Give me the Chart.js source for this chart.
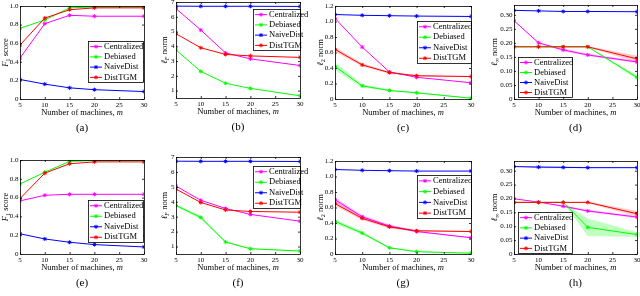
<!DOCTYPE html>
<html>
<head>
<meta charset="utf-8">
<script src="https://cdn.jsdelivr.net/npm/chart.js@4.4.0/dist/chart.umd.min.js"></script>
<style>
  body { margin: 0; background: #fff; width: 640px; height: 296px; overflow: hidden; position: relative; font-family: "Liberation Serif", serif; }
  canvas { position: absolute; }
  .cap { position: absolute; font-size: 11px; transform: translateX(-50%); color: #000; }
</style>
</head>
<body>
<script>
// x values and labels
const machines = [5, 10, 15, 20, 30];
const xTicks = [5, 10, 15, 20, 25, 30];
const methods = ['Centralized', 'Debiased', 'NaiveDist', 'DistTGM'];

// y tick labels
const f1Ticks = [0, 0.2, 0.4, 0.6, 0.8, 1];
const fnormTicks = [1, 2, 3, 4, 5, 6, 7];
const l2Ticks = [0, 0.2, 0.4, 0.6, 0.8, 1, 1.2];
const linfTicks = [0, 0.05, 0.1, 0.15, 0.2, 0.25, 0.3];

// (a) F1 score, top row
const aCentralized = [0.44, 0.81, 0.90, 0.89, 0.89];
const aDebiased = [0.76, 0.85, 0.98, 0.99, 0.99];
const aNaiveDist = [0.21, 0.16, 0.12, 0.10, 0.08];
const aDistTGM = [0.58, 0.87, 0.96, 0.98, 0.98];

// (b) lF norm
const bCentralized = [6.55, 5.1, 3.55, 3.15, 2.7];
const bDebiased = [3.75, 2.3, 1.5, 1.15, 0.65];
const bNaiveDist = [6.72, 6.71, 6.71, 6.71, 6.70];
const bDistTGM = [4.85, 3.9, 3.45, 3.35, 3.25];

// (c) l2 norm
const cCentralized = [1.04, 0.67, 0.35, 0.28, 0.21];
const cDebiased = [0.42, 0.17, 0.11, 0.08, 0.01];
const cNaiveDist = [1.09, 1.08, 1.075, 1.07, 1.065];
const cDistTGM = [0.64, 0.44, 0.34, 0.30, 0.29];
const cDebiasedBand = [0.05, 0.02, 0.01, 0.01, 0.005];
const cDistTGMBand = [0.03, 0.02, 0.015, 0.01, 0.005];

// (d) linf norm
const dCentralized = [0.279, 0.200, 0.175, 0.157, 0.132];
const dDebiased = [0.186, 0.186, 0.186, 0.186, 0.077];
const dNaiveDist = [0.316, 0.314, 0.312, 0.312, 0.311];
const dDistTGM = [0.186, 0.186, 0.186, 0.186, 0.143];
const dCentralizedBand = [0, 0.002, 0.005, 0.004, 0.004];
const dDebiasedBand = [0, 0, 0, 0, 0.008];
const dDistTGMBand = [0, 0, 0, 0.002, 0.012];

// (e) F1 score, bottom row
const eCentralized = [0.565, 0.625, 0.635, 0.635, 0.635];
const eDebiased = [0.745, 0.87, 0.985, 0.995, 0.995];
const eNaiveDist = [0.215, 0.16, 0.125, 0.10, 0.075];
const eDistTGM = [0.59, 0.86, 0.96, 0.98, 0.98];

// (f) lF norm
const fCentralized = [5.05, 4.1, 3.55, 3.15, 2.7];
const fDebiased = [3.75, 2.95, 1.3, 0.85, 0.7];
const fNaiveDist = [6.72, 6.71, 6.71, 6.71, 6.70];
const fDistTGM = [4.85, 3.95, 3.45, 3.35, 3.3];
const fDebiasedBand = [0.08, 0.12, 0.05, 0.03, 0.03];

// (g) l2 norm
const gCentralized = [0.70, 0.48, 0.36, 0.29, 0.21];
const gDebiased = [0.42, 0.27, 0.08, 0.03, 0.01];
const gNaiveDist = [1.09, 1.08, 1.075, 1.07, 1.07];
const gDistTGM = [0.65, 0.46, 0.35, 0.30, 0.29];
const gCentralizedBand = [0.03, 0.02, 0.02, 0.01, 0.005];
const gDebiasedBand = [0.03, 0.02, 0.01, 0.005, 0.005];
const gDistTGMBand = [0.03, 0.02, 0.02, 0.01, 0.005];

// (h) linf norm
const hCentralized = [0.199, 0.187, 0.172, 0.155, 0.133];
const hDebiased = [0.186, 0.186, 0.186, 0.096, 0.07];
const hNaiveDist = [0.315, 0.313, 0.312, 0.311, 0.311];
const hDistTGM = [0.186, 0.186, 0.186, 0.186, 0.145];
const hCentralizedBand = [0, 0, 0.003, 0.004, 0.004];
const hDebiasedBand = [0, 0, 0, 0.032, 0.008];
const hNaiveDistBand = [0, 0.004, 0.003, 0.002, 0.001];
const hDistTGMBand = [0, 0, 0, 0.003, 0.01];

const colors = ['#ff00ff', '#00ff00', '#0000ff', '#ff0000'];
const bandColors = ['rgba(255,0,255,0.25)', 'rgba(0,255,0,0.25)', 'rgba(0,0,255,0.2)', 'rgba(255,0,0,0.2)'];
const FONT = '"Liberation Serif", serif';

// y titles: [text, style] parts; style: n normal, i italic, s subscript, si italic subscript
const titleF1 = [['F', 'i'], ['1', 's'], [' score', 'n']];
const titleLF = [['\u2113', 'i'], ['F', 'si'], [' norm', 'n']];
const titleL2 = [['\u2113', 'i'], ['2', 's'], [' norm', 'n']];
const titleLinf = [['\u2113', 'i'], ['\u221e', 's'], [' norm', 'n']];

const panels = [
  { rect: [20, 6, 144, 99], y: [0, 1], yTicks: f1Ticks, title: titleF1, tOff: 14,
    series: [aCentralized, aDebiased, aNaiveDist, aDistTGM], bands: [], legend: [88, 41, 143, 82], cap: '(a)' },
  { rect: [176, 2, 300, 98], y: [0.5, 7], yTicks: fnormTicks, title: titleLF, tOff: 11,
    series: [bCentralized, bDebiased, bNaiveDist, bDistTGM], bands: [], legend: [253, 9, 300, 50], cap: '(b)' },
  { rect: [335, 6, 471, 99], y: [0, 1.2], yTicks: l2Ticks, title: titleL2, tOff: 14,
    series: [cCentralized, cDebiased, cNaiveDist, cDistTGM], bands: [null, cDebiasedBand, null, cDistTGMBand], legend: [417, 21, 471, 63], cap: '(c)' },
  { rect: [514, 5, 637, 99], y: [0, 0.335], yTicks: linfTicks, title: titleLinf, tOff: 19,
    series: [dCentralized, dDebiased, dNaiveDist, dDistTGM], bands: [dCentralizedBand, dDebiasedBand, null, dDistTGMBand], legend: [518, 57, 572, 97], cap: '(d)' },
  { rect: [20, 160, 144, 254], y: [0, 1], yTicks: f1Ticks, title: titleF1, tOff: 14,
    series: [eCentralized, eDebiased, eNaiveDist, eDistTGM], bands: [], legend: [88, 200, 143, 242], cap: '(e)' },
  { rect: [176, 157, 300, 254], y: [0.5, 7], yTicks: fnormTicks, title: titleLF, tOff: 11,
    series: [fCentralized, fDebiased, fNaiveDist, fDistTGM], bands: [null, fDebiasedBand, null, null], legend: [253, 166, 300, 208], cap: '(f)' },
  { rect: [335, 161, 471, 254], y: [0, 1.2], yTicks: l2Ticks, title: titleL2, tOff: 14,
    series: [gCentralized, gDebiased, gNaiveDist, gDistTGM], bands: [gCentralizedBand, gDebiasedBand, null, gDistTGMBand], legend: [417, 175, 471, 218], cap: '(g)' },
  { rect: [514, 161, 637, 254], y: [0, 0.335], yTicks: linfTicks, title: titleLinf, tOff: 19,
    series: [hCentralized, hDebiased, hNaiveDist, hDistTGM], bands: [hCentralizedBand, hDebiasedBand, hNaiveDistBand, hDistTGMBand], legend: [518, 212, 572, 253], cap: '(h)' }
];

const YW = 40, XH = 24, PT = 6, PR = 8;

function buildDatasets(p) {
  const ds = [];
  p.series.forEach((v, i) => {
    const b = p.bands[i];
    if (!b) return;
    ds.push({ data: machines.map((x, k) => ({ x, y: v[k] - b[k] })), borderColor: 'transparent', borderWidth: 0,
      pointRadius: 0, fill: false, order: 10 });
    ds.push({ data: machines.map((x, k) => ({ x, y: v[k] + b[k] })), borderColor: 'transparent', borderWidth: 0,
      pointRadius: 0, fill: '-1', backgroundColor: bandColors[i], order: 10 });
  });
  p.series.forEach((v, i) => {
    ds.push({ label: methods[i], data: machines.map((x, k) => ({ x, y: v[k] })), borderColor: colors[i],
      backgroundColor: colors[i], borderWidth: 1, pointStyle: 'star', pointRadius: 2, pointBorderWidth: 1,
      fill: false, order: 4 - i });
  });
  return ds;
}

function drawParts(ctx, parts, x, y, size) {
  // measure then draw centred at x
  const fontOf = st => (st.includes('i') ? 'italic ' : '') + (st.includes('s') ? size * 0.72 : size) + 'px ' + FONT;
  let total = 0;
  parts.forEach(([t, st]) => { ctx.font = fontOf(st); total += ctx.measureText(t).width; });
  let cx = x - total / 2;
  parts.forEach(([t, st]) => {
    ctx.font = fontOf(st);
    ctx.fillText(t, cx, y + (st.includes('s') ? size * 0.25 : 0));
    cx += ctx.measureText(t).width;
  });
}

const matlabBox = {
  id: 'matlabBox',
  afterDraw(chart) {
    const p = chart.options.plugins.matlabBox.panel;
    const off = chart.options.plugins.matlabBox.off;
    const { ctx, chartArea: a, scales } = chart;
    ctx.save();
    ctx.strokeStyle = '#000';
    ctx.lineWidth = 0.8;
    ctx.strokeRect(a.left + 0.5, a.top + 0.5, a.right - a.left, a.bottom - a.top);
    ctx.beginPath();
    scales.x.ticks.forEach(t => {
      const px = scales.x.getPixelForValue(t.value) + 0.5;
      ctx.moveTo(px, a.bottom); ctx.lineTo(px, a.bottom - 2);
      ctx.moveTo(px, a.top); ctx.lineTo(px, a.top + 2);
    });
    scales.y.ticks.forEach(t => {
      const py = scales.y.getPixelForValue(t.value) + 0.5;
      ctx.moveTo(a.left, py); ctx.lineTo(a.left + 2, py);
      ctx.moveTo(a.right, py); ctx.lineTo(a.right - 2, py);
    });
    ctx.stroke();

    // axis titles
    ctx.fillStyle = '#000';
    ctx.textBaseline = 'middle';
    ctx.textAlign = 'left';
    drawParts(ctx, [['Number of machines, ', 'n'], ['m', 'i']], (a.left + a.right) / 2, a.bottom + 14, 8.5);
    ctx.save();
    ctx.translate(a.left - p.tOff, (a.top + a.bottom) / 2);
    ctx.rotate(-Math.PI / 2);
    drawParts(ctx, p.title, 0, 0, 8.5);
    ctx.restore();

    // legend box
    const [l, t, r, b] = p.legend;
    const lx = l - off[0], ly = t - off[1], lw = r - l, lh = b - t;
    ctx.fillStyle = '#fff';
    ctx.fillRect(lx, ly, lw, lh);
    ctx.strokeRect(lx + 0.5, ly + 0.5, lw, lh);
    const rowH = lh / 4;
    methods.forEach((m, i) => {
      const cy = ly + rowH * (i + 0.5) + 0.5;
      ctx.strokeStyle = colors[i];
      ctx.lineWidth = 1;
      ctx.beginPath(); ctx.moveTo(lx + 2, cy); ctx.lineTo(lx + 14, cy); ctx.stroke();
      Chart.helpers.drawPoint(ctx, { pointStyle: 'star', radius: 2, rotation: 0, borderWidth: 1 }, lx + 8, cy);
      ctx.fillStyle = '#000';
      ctx.font = '8.5px ' + FONT;
      ctx.fillText(m, lx + 16, cy);
    });
    ctx.restore();
  }
};

panels.forEach(p => {
  const [l, t, r, b] = p.rect;
  const cv = document.createElement('canvas');
  const left = l - YW, top = t - PT;
  cv.width = r - l + YW + PR;
  cv.height = b - t + PT + XH;
  cv.style.left = left + 'px';
  cv.style.top = top + 'px';
  document.body.appendChild(cv);

  new Chart(cv, {
    type: 'line',
    data: { datasets: buildDatasets(p) },
    options: {
      responsive: false,
      animation: false,
      layout: { padding: { top: PT, right: PR, left: 0, bottom: 0 } },
      plugins: { legend: { display: false }, tooltip: { enabled: false }, matlabBox: { panel: p, off: [left, top] } },
      scales: {
        x: {
          type: 'linear', min: 5, max: 30,
          grid: { display: false, drawTicks: false }, border: { display: false },
          afterBuildTicks: s => { s.ticks = xTicks.map(v => ({ value: v })); },
          afterFit: s => { s.height = XH; },
          ticks: { padding: 2, color: '#000', font: { family: FONT, size: 7 } }
        },
        y: {
          min: p.y[0], max: p.y[1],
          grid: { display: false, drawTicks: false }, border: { display: false },
          afterBuildTicks: s => { s.ticks = p.yTicks.map(v => ({ value: v })); },
          afterFit: s => { s.width = YW; },
          ticks: { padding: 1.5, color: '#000', font: { family: FONT, size: 7 } }
        }
      }
    },
    plugins: [matlabBox]
  });

  const cap = document.createElement('div');
  cap.className = 'cap';
  cap.textContent = p.cap;
  cap.style.left = ((l + r) / 2) + 'px';
  cap.style.top = (b + 22) + 'px';
  document.body.appendChild(cap);
});
</script>
</body>
</html>
